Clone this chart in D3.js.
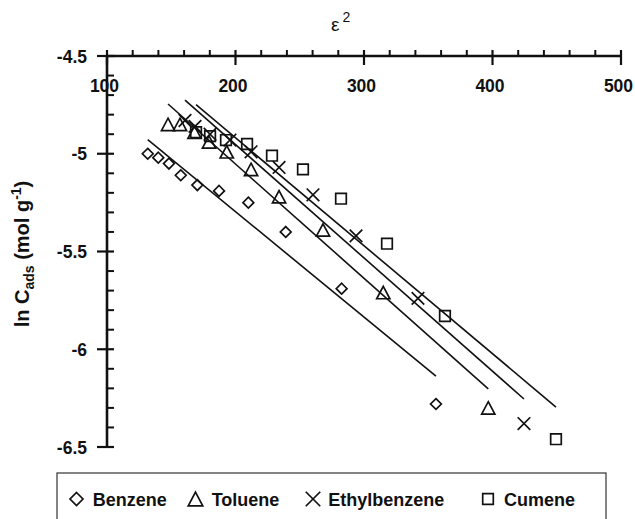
<!DOCTYPE html>
<html>
<head>
<meta charset="utf-8">
<script src="https://cdn.jsdelivr.net/npm/d3@7"></script>
<style>
  html, body { margin: 0; padding: 0; background: #fff; }
  svg { display: block; font-family: "Liberation Sans", Arial, sans-serif; }
</style>
</head>
<body>
<svg id="chart" width="635" height="519"></svg>
<script>
// Adsorption (Dubinin–Radushkevich) data: ln C_ads against epsilon squared
const seriesNames = ["Benzene", "Toluene", "Ethylbenzene", "Cumene"];

const benzeneEps = [131.7, 139.9, 148.2, 157.4, 170.3, 187.2, 210.0, 239.1, 282.6, 356.0];
const benzeneLnC = [-5.00, -5.02, -5.05, -5.11, -5.16, -5.19, -5.25, -5.40, -5.69, -6.28];

const tolueneEps = [147.5, 156.8, 168.1, 179.4, 193.2, 212.1, 233.9, 268.1, 315.0, 396.7];
const tolueneLnC = [-4.85, -4.85, -4.89, -4.94, -4.99, -5.08, -5.22, -5.39, -5.71, -6.30];

const ethylEps = [160.7, 168.5, 180.2, 195.7, 212.1, 233.9, 260.3, 293.8, 342.0, 424.5];
const ethylLnC = [-4.83, -4.86, -4.90, -4.93, -4.99, -5.07, -5.21, -5.42, -5.74, -6.38];

const cumeneEps = [169.3, 180.2, 192.6, 209.0, 228.4, 252.5, 282.1, 317.9, 363.0, 449.4];
const cumeneLnC = [-4.89, -4.91, -4.93, -4.95, -5.01, -5.08, -5.23, -5.46, -5.83, -6.46];

// Linear fits (ln C = intercept + slope * eps^2)
const fitSlopes = [-0.005391, -0.005847, -0.005796, -0.005522];
const fitIntercepts = [-4.218, -3.883, -3.794, -3.814];

// Axis ticks
const xMajorTicks = [100, 200, 300, 400, 500];
const yMajorTicks = [-4.5, -5, -5.5, -6, -6.5];

const svg = d3.select("#chart");

const x = d3.scaleLinear().domain([100, 500]).range([107, 621]);
const y = d3.scaleLinear().domain([-4.5, -6.5]).range([56, 447]);

const xMinor = d3.range(100, 500.001, 20).filter(v => !xMajorTicks.includes(v));
const yMinor = d3.range(0, 21).map(i => +(-4.5 - i * 0.1).toFixed(1)).filter(v => !yMajorTicks.includes(v));

const ink = "#111";

// ---- fitted lines ----
const allEps = [benzeneEps, tolueneEps, ethylEps, cumeneEps];
const allLnC = [benzeneLnC, tolueneLnC, ethylLnC, cumeneLnC];

const fitG = svg.append("g");
seriesNames.forEach((name, i) => {
  const e0 = d3.min(allEps[i]), e1 = d3.max(allEps[i]);
  fitG.append("line")
    .attr("x1", x(e0)).attr("y1", y(fitIntercepts[i] + fitSlopes[i] * e0))
    .attr("x2", x(e1)).attr("y2", y(fitIntercepts[i] + fitSlopes[i] * e1))
    .attr("stroke", ink).attr("stroke-width", 1.6);
});

// ---- marker shapes ----
function markerPath(kind, s) {
  const p = d3.path();
  if (kind === 0) {            // diamond
    const h = 5.4 * s;
    p.moveTo(0, -h); p.lineTo(h, 0); p.lineTo(0, h); p.lineTo(-h, 0); p.closePath();
  } else if (kind === 1) {     // triangle
    const w = 6.6 * s, h = 6.2 * s;
    p.moveTo(0, -h); p.lineTo(w, h); p.lineTo(-w, h); p.closePath();
  } else if (kind === 2) {     // cross
    const a = 6.3 * s;
    p.moveTo(-a, -a); p.lineTo(a, a); p.moveTo(a, -a); p.lineTo(-a, a);
  } else {                     // square
    const a = 5.3 * s;
    p.rect(-a, -a, 2 * a, 2 * a);
  }
  return p.toString();
}

const ptG = svg.append("g");
seriesNames.forEach((name, i) => {
  const pts = allEps[i].map((e, k) => [e, allLnC[i][k]]);
  ptG.selectAll(null).data(pts).join("path")
    .attr("transform", d => `translate(${x(d[0])},${y(d[1])})`)
    .attr("d", markerPath(i, 1))
    .attr("fill", "none")
    .attr("stroke", ink)
    .attr("stroke-width", 1.7);
});

// ---- x axis (top) ----
const xAx = svg.append("g");
xAx.append("line")
  .attr("x1", x(100) - 1).attr("x2", x(500) + 1)
  .attr("y1", y(-4.5)).attr("y2", y(-4.5))
  .attr("stroke", ink).attr("stroke-width", 2.6);
xAx.selectAll(null).data(xMinor).join("line")
  .attr("x1", d => x(d)).attr("x2", d => x(d))
  .attr("y1", y(-4.5) - 6).attr("y2", y(-4.5))
  .attr("stroke", ink).attr("stroke-width", 2);
xAx.selectAll(null).data(xMajorTicks).join("line")
  .attr("x1", d => x(d)).attr("x2", d => x(d))
  .attr("y1", y(-4.5) - 6).attr("y2", y(-4.5) + 9)
  .attr("stroke", ink).attr("stroke-width", 2.2);
xAx.selectAll(null).data(xMajorTicks).join("text")
  .attr("x", d => x(d) - 2.5).attr("y", 92)
  .attr("text-anchor", "middle")
  .attr("font-size", 17.5).attr("font-weight", "bold").attr("fill", ink)
  .text(d => d);

// ---- y axis (left) ----
const yAx = svg.append("g");
yAx.append("line")
  .attr("x1", x(100)).attr("x2", x(100))
  .attr("y1", y(-4.5)).attr("y2", y(-6.5) + 1)
  .attr("stroke", ink).attr("stroke-width", 2.6);
yAx.selectAll(null).data(yMinor).join("line")
  .attr("x1", x(100)).attr("x2", x(100) + 7)
  .attr("y1", d => y(d)).attr("y2", d => y(d))
  .attr("stroke", ink).attr("stroke-width", 2);
yAx.selectAll(null).data(yMajorTicks).join("line")
  .attr("x1", x(100) - 10).attr("x2", x(100) + 7)
  .attr("y1", d => y(d)).attr("y2", d => y(d))
  .attr("stroke", ink).attr("stroke-width", 2.2);
yAx.selectAll(null).data(yMajorTicks).join("text")
  .attr("x", 87).attr("y", d => y(d) + 6.5)
  .attr("text-anchor", "end")
  .attr("font-size", 17.5).attr("font-weight", "bold").attr("fill", ink)
  .text(d => d);

// ---- axis titles ----
const xt = svg.append("text")
  .attr("x", 331).attr("y", 31)
  .attr("font-size", 19).attr("fill", ink);
xt.append("tspan").text("ε");
xt.append("tspan").attr("dx", 3).attr("dy", -9).attr("font-size", 14).text("2");

const yt = svg.append("text")
  .attr("transform", "translate(29,254) rotate(-90)")
  .attr("text-anchor", "middle")
  .attr("font-size", 20).attr("font-weight", "bold").attr("fill", ink);
yt.append("tspan").text("ln C");
yt.append("tspan").attr("dy", 5).attr("font-size", 14).text("ads");
yt.append("tspan").attr("dy", -5).text(" (mol g");
yt.append("tspan").attr("dy", -8).attr("font-size", 14).text("-1");
yt.append("tspan").attr("dy", 8).text(")");

// ---- legend ----
const lg = svg.append("g");
lg.append("rect")
  .attr("x", 57).attr("y", 473).attr("width", 549).attr("height", 60)
  .attr("fill", "#fff").attr("stroke", "#333").attr("stroke-width", 1.2);

const legendMarkX = [76.5, 195.5, 313, 488];
const legendTextX = [92.7, 211.7, 328.3, 504];
const legendScale = [1.2, 1.1, 1.15, 1.0];
seriesNames.forEach((name, i) => {
  lg.append("path")
    .attr("transform", `translate(${legendMarkX[i]},499)`)
    .attr("d", markerPath(i, legendScale[i]))
    .attr("fill", "none").attr("stroke", ink).attr("stroke-width", 1.7);
  lg.append("text")
    .attr("x", legendTextX[i]).attr("y", 506)
    .attr("font-size", 18).attr("font-weight", "bold").attr("fill", ink)
    .text(name);
});
</script>
</body>
</html>
